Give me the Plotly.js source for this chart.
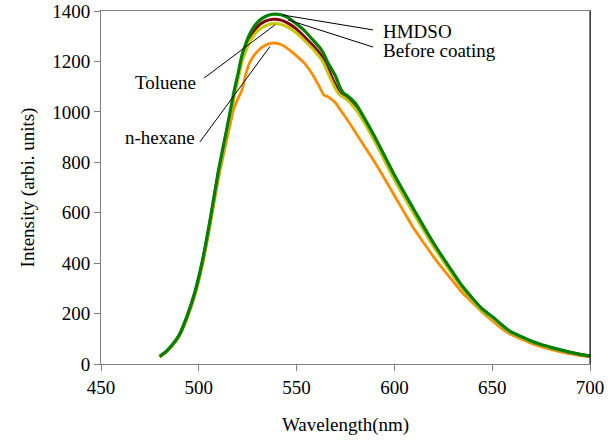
<!DOCTYPE html>
<html>
<head>
<meta charset="utf-8">
<script src="https://cdn.plot.ly/plotly-3.0.1.min.js"></script>
<style>html,body{margin:0;padding:0;background:#fff;}#chart{width:616px;height:440px;}</style>
</head>
<body>
<div id="chart"></div>
<script>
const wavelength = [480,483,486,490,494,498,502,506,510,514,516,518,520,522,524,526,530,534,538,542,546,550,554,558,562,564,566,570,572,574,576,580,585,590,595,600,605,610,615,620,625,630,635,640,645,650,655,658,660,665,670,675,680,685,690,695,700];

const hmdso = [30,48,72,115,190,285,415,582,765,920,1000,1080,1150,1222,1270,1308,1355,1378,1387,1385,1372,1348,1322,1288,1253,1228,1195,1140,1100,1074,1064,1035,970,900,825,750,680,612,545,480,420,362,306,260,218,188,155,136,126,108,91,77,66,56,46,38,32];

const beforeCoating = [30,47,71,114,188,282,410,575,757,912,990,1068,1138,1208,1255,1293,1338,1360,1367,1364,1350,1328,1298,1266,1230,1205,1172,1105,1075,1064,1052,1020,958,888,812,737,667,600,534,470,412,355,300,254,213,184,152,133,124,106,89,76,65,55,46,38,31];

const toluene = [30,47,70,113,186,280,407,570,750,905,982,1058,1128,1195,1240,1278,1320,1341,1350,1347,1334,1312,1283,1252,1215,1190,1155,1090,1068,1058,1046,1012,952,882,806,731,662,595,530,466,409,352,298,252,211,182,150,131,122,104,88,75,64,54,45,37,31];

const nHexane = [28,45,68,110,180,272,398,560,735,880,950,1015,1052,1085,1148,1195,1240,1264,1273,1267,1248,1222,1193,1150,1095,1066,1060,1035,1012,990,968,920,860,800,735,668,602,536,480,425,375,328,280,243,205,172,140,124,116,98,82,69,58,48,40,33,28];

const xTicks = [450,500,550,600,650,700];
const yTicks = [0,200,400,600,800,1000,1200,1400];

const seriesNames = ["n-hexane","Before coating","Toluene","HMDSO"];
const seriesData = [nHexane, beforeCoating, toluene, hmdso];
const seriesColors = ["#FF8C00","#800000","#C8C800","#008000"];
const seriesWidths = [2.8,3,3,3.2];

const FONT = "Times New Roman";

const traces = seriesData.map((d,i)=>({
  x: wavelength, y: d, type: "scatter", mode: "lines", name: seriesNames[i],
  line: {color: seriesColors[i], width: seriesWidths[i], shape: "spline", smoothing: 0.6},
  hoverinfo: "skip"
}));

const leaders = [
  [543.0,1384,589.1,1325],
  [545.6,1365,589.1,1257],
  [502.7,1134,539.0,1345],
  [500.6,881,536.4,1259]
];
const labels = [
  [593.0,1318,"HMDSO","left"],
  [593.1,1245,"Before coating","left"],
  [499.8,1115,"Toluene","right"],
  [499.3,900,"n-hexane","right"]
];

const shapes = leaders.map(l=>({type:"line", xref:"x", yref:"y", x0:l[0], y0:l[1], x1:l[2], y1:l[3], line:{color:"#000", width:1}}));
shapes.push({type:"line", xref:"paper", yref:"paper", x0:1, x1:1, y0:0, y1:1, line:{color:"#000", width:1}});

const annotations = labels.map(a=>({x:a[0], y:a[1], xref:"x", yref:"y", text:a[2], showarrow:false, xanchor:a[3], yanchor:"middle", font:{family:FONT, size:19, color:"#000"}}));

const layout = {
  width: 616, height: 440,
  margin: {l:101, r:26, t:11, b:76},
  paper_bgcolor: "#fff", plot_bgcolor: "#fff",
  showlegend: false,
  font: {family: FONT, size: 19, color: "#000"},
  xaxis: {
    range: [450,700], tickvals: xTicks, ticktext: xTicks.map(String),
    showgrid: false, zeroline: false,
    showline: true, linecolor: "#808080", linewidth: 1, mirror: true,
    ticks: "outside", ticklen: 6, tickcolor: "#808080", tickwidth: 1,
    tickfont: {family: FONT, size: 19, color: "#000"},
    title: {text: "Wavelength(nm)", font: {family: FONT, size: 19, color: "#000"}, standoff: 20}
  },
  yaxis: {
    range: [0,1400], tickvals: yTicks, ticktext: yTicks.map(String),
    showgrid: false, zeroline: false,
    showline: true, linecolor: "#808080", linewidth: 1, mirror: true,
    ticks: "outside", ticklen: 6, tickcolor: "#808080", tickwidth: 1,
    tickfont: {family: FONT, size: 19, color: "#000"},
    title: {text: "Intensity (arbi. units)", font: {family: FONT, size: 19, color: "#000"}, standoff: 12}
  },
  shapes: shapes,
  annotations: annotations
};

Plotly.newPlot("chart", traces, layout, {staticPlot: true, displayModeBar: false});
</script>
</body>
</html>
